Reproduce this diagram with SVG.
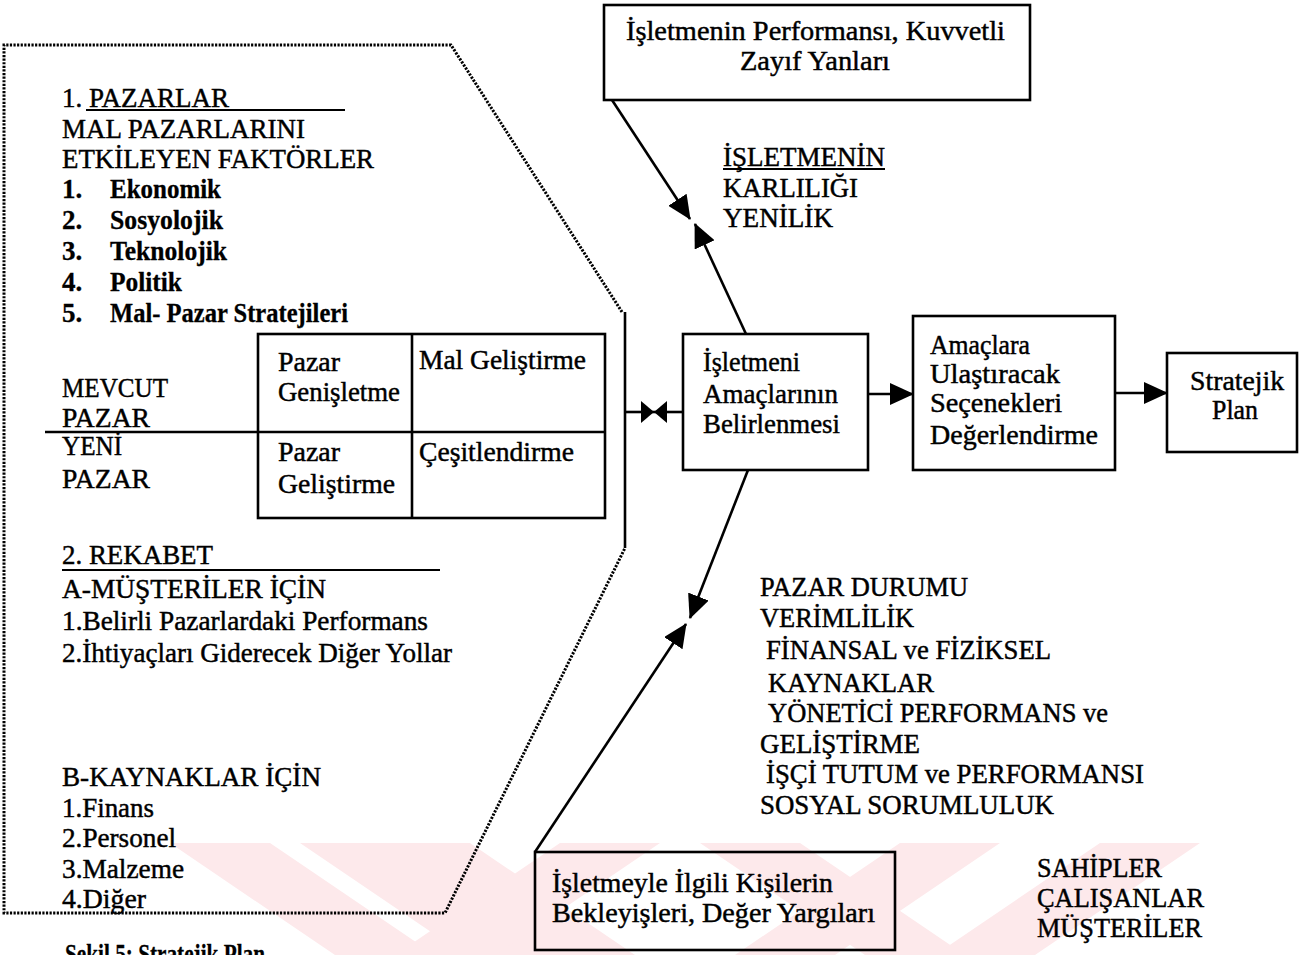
<svg xmlns="http://www.w3.org/2000/svg" width="1307" height="955" viewBox="0 0 1307 955">
  <style>
    text { font-family: "Liberation Serif", "Times New Roman", serif; font-size: 27px; fill: #000; stroke: #000; stroke-width: 0.45; }
    .b { font-weight: bold; stroke-width: 0.3; }
    .box { fill: none; stroke: #000; stroke-width: 2.6; }
    .line { fill: none; stroke: #000; stroke-width: 2.6; }
    .rule { fill: none; stroke: #000; stroke-width: 1.8; }
    .dots { fill: none; stroke: #000; stroke-width: 3; stroke-dasharray: 2.2 1.4; }
    .wm { fill: #fde9eb; }
  </style>
  <defs>
    <marker id="arrow" viewBox="0 0 24 22" refX="23" refY="11" markerWidth="24" markerHeight="22" markerUnits="userSpaceOnUse" orient="auto">
      <path d="M0,0 L24,11 L0,22 z" fill="#000"/>
    </marker>
    <marker id="tip" viewBox="0 0 13 22" refX="13" refY="11" markerWidth="13" markerHeight="22" markerUnits="userSpaceOnUse" orient="auto">
      <path d="M0,0 L13,11 L0,22 z" fill="#000"/>
    </marker>
  </defs>

  <rect width="1307" height="955" fill="#fff"/>

  <!-- faint background mark along the lower edge -->
  <g id="background-mark">
    <polygon class="wm" points="170,843 270,843 435,955 335,955"/>
    <polygon class="wm" points="300,843 470,843 635,955 465,955"/>
    <polygon class="wm" points="560,843 660,843 495,955 395,955"/>
    <polygon class="wm" points="700,843 800,843 965,955 865,955"/>
    <polygon class="wm" points="900,843 1000,843 835,955 735,955"/>
    <polygon class="wm" points="1100,843 1200,843 1035,955 935,955"/>
  </g>

  <!-- dotted outline of the environment analysis panel -->
  <g id="panel">
    <path class="dots" d="M622,312 L451,45 L4,45 L4,913 L445,913 L625,548"/>
    <path class="line" d="M625,312 L625,548"/>
  </g>

  <!-- section 1: markets -->
  <g id="markets">
    <text x="62" y="107" textLength="167" lengthAdjust="spacingAndGlyphs">1. PAZARLAR</text>
    <line class="rule" x1="86" y1="110" x2="345" y2="110"/>
    <text x="62" y="138" textLength="243" lengthAdjust="spacingAndGlyphs">MAL PAZARLARINI</text>
    <text x="62" y="168" textLength="312" lengthAdjust="spacingAndGlyphs">ETKİLEYEN FAKTÖRLER</text>
    <text class="b" x="62" y="198">1.</text><text class="b" x="110" y="198" textLength="111" lengthAdjust="spacingAndGlyphs">Ekonomik</text>
    <text class="b" x="62" y="229">2.</text><text class="b" x="110" y="229" textLength="113" lengthAdjust="spacingAndGlyphs">Sosyolojik</text>
    <text class="b" x="62" y="260">3.</text><text class="b" x="110" y="260" textLength="117" lengthAdjust="spacingAndGlyphs">Teknolojik</text>
    <text class="b" x="62" y="291">4.</text><text class="b" x="110" y="291" textLength="72" lengthAdjust="spacingAndGlyphs">Politik</text>
    <text class="b" x="62" y="322">5.</text><text class="b" x="110" y="322" textLength="238" lengthAdjust="spacingAndGlyphs">Mal- Pazar Stratejileri</text>
  </g>

  <!-- product / market matrix -->
  <g id="matrix">
    <rect class="box" x="258" y="334" width="347" height="184"/>
    <line class="line" x1="412" y1="334" x2="412" y2="518"/>
    <line class="line" x1="45" y1="432" x2="605" y2="432"/>
    <text x="62" y="397" textLength="106" lengthAdjust="spacingAndGlyphs">MEVCUT</text>
    <text x="62" y="427" textLength="88" lengthAdjust="spacingAndGlyphs">PAZAR</text>
    <text x="62" y="455" textLength="60" lengthAdjust="spacingAndGlyphs">YENİ</text>
    <text x="62" y="488" textLength="88" lengthAdjust="spacingAndGlyphs">PAZAR</text>
    <text x="278" y="371" textLength="62" lengthAdjust="spacingAndGlyphs">Pazar</text>
    <text x="278" y="401" textLength="122" lengthAdjust="spacingAndGlyphs">Genişletme</text>
    <text x="419" y="369" textLength="167" lengthAdjust="spacingAndGlyphs">Mal Geliştirme</text>
    <text x="278" y="461" textLength="62" lengthAdjust="spacingAndGlyphs">Pazar</text>
    <text x="278" y="493" textLength="117" lengthAdjust="spacingAndGlyphs">Geliştirme</text>
    <text x="419" y="461" textLength="155" lengthAdjust="spacingAndGlyphs">Çeşitlendirme</text>
  </g>

  <!-- section 2: competition -->
  <g id="competition">
    <text x="62" y="564" textLength="151" lengthAdjust="spacingAndGlyphs">2. REKABET</text>
    <line class="rule" x1="62" y1="570" x2="440" y2="570"/>
    <text x="62" y="598" textLength="264" lengthAdjust="spacingAndGlyphs">A-MÜŞTERİLER  İÇİN</text>
    <text x="62" y="630" textLength="366" lengthAdjust="spacingAndGlyphs">1.Belirli  Pazarlardaki Performans</text>
    <text x="62" y="662" textLength="390" lengthAdjust="spacingAndGlyphs">2.İhtiyaçları Giderecek Diğer Yollar</text>
    <text x="62" y="786" textLength="259" lengthAdjust="spacingAndGlyphs">B-KAYNAKLAR İÇİN</text>
    <text x="62" y="817" textLength="92" lengthAdjust="spacingAndGlyphs">1.Finans</text>
    <text x="62" y="847" textLength="114" lengthAdjust="spacingAndGlyphs">2.Personel</text>
    <text x="62" y="878" textLength="122" lengthAdjust="spacingAndGlyphs">3.Malzeme</text>
    <text x="62" y="908" textLength="84" lengthAdjust="spacingAndGlyphs">4.Diğer</text>
  </g>

  <g id="performance">
    <rect class="box" x="604" y="5" width="426" height="95"/>
    <text x="626" y="40" textLength="379" lengthAdjust="spacingAndGlyphs">İşletmenin Performansı, Kuvvetli</text>
    <text x="740" y="70" textLength="150" lengthAdjust="spacingAndGlyphs">Zayıf Yanları</text>
  </g>

  <g id="profitability">
    <text x="723" y="166" textLength="162" lengthAdjust="spacingAndGlyphs">İŞLETMENİN</text>
    <line class="rule" x1="723" y1="169" x2="885" y2="169"/>
    <text x="723" y="197" textLength="135" lengthAdjust="spacingAndGlyphs">KARLILIĞI</text>
    <text x="723" y="227" textLength="110" lengthAdjust="spacingAndGlyphs">YENİLİK</text>
  </g>

  <g id="objectives">
    <rect class="box" x="683" y="334" width="185" height="136"/>
    <text x="703" y="371" textLength="97" lengthAdjust="spacingAndGlyphs">İşletmeni</text>
    <text x="703" y="403" textLength="135" lengthAdjust="spacingAndGlyphs">Amaçlarının</text>
    <text x="703" y="433" textLength="137" lengthAdjust="spacingAndGlyphs">Belirlenmesi</text>
  </g>

  <g id="options">
    <rect class="box" x="913" y="316" width="202" height="154"/>
    <text x="930" y="354" textLength="100" lengthAdjust="spacingAndGlyphs">Amaçlara</text>
    <text x="930" y="383" textLength="130" lengthAdjust="spacingAndGlyphs">Ulaştıracak</text>
    <text x="930" y="412" textLength="132" lengthAdjust="spacingAndGlyphs">Seçenekleri</text>
    <text x="930" y="444" textLength="168" lengthAdjust="spacingAndGlyphs">Değerlendirme</text>
  </g>

  <g id="plan">
    <rect class="box" x="1167" y="353" width="130" height="99"/>
    <text x="1190" y="390" textLength="94" lengthAdjust="spacingAndGlyphs">Stratejik</text>
    <text x="1212" y="419" textLength="46" lengthAdjust="spacingAndGlyphs">Plan</text>
  </g>

  <g id="criteria">
    <text x="760" y="596" textLength="208" lengthAdjust="spacingAndGlyphs">PAZAR DURUMU</text>
    <text x="760" y="627" textLength="154" lengthAdjust="spacingAndGlyphs">VERİMLİLİK</text>
    <text x="766" y="659" textLength="285" lengthAdjust="spacingAndGlyphs">FİNANSAL ve FİZİKSEL</text>
    <text x="768" y="692" textLength="166" lengthAdjust="spacingAndGlyphs">KAYNAKLAR</text>
    <text x="768" y="722" textLength="340" lengthAdjust="spacingAndGlyphs">YÖNETİCİ PERFORMANS ve</text>
    <text x="760" y="753" textLength="160" lengthAdjust="spacingAndGlyphs">GELİŞTİRME</text>
    <text x="766" y="783" textLength="378" lengthAdjust="spacingAndGlyphs">İŞÇİ TUTUM ve PERFORMANSI</text>
    <text x="760" y="814" textLength="294" lengthAdjust="spacingAndGlyphs">SOSYAL SORUMLULUK</text>
  </g>

  <g id="stakeholders">
    <rect class="box" x="535" y="852" width="360" height="98"/>
    <text x="552" y="892" textLength="281" lengthAdjust="spacingAndGlyphs">İşletmeyle İlgili Kişilerin</text>
    <text x="552" y="922" textLength="323" lengthAdjust="spacingAndGlyphs">Bekleyişleri, Değer Yargıları</text>
  </g>

  <g id="stakeholder-groups">
    <text x="1037" y="877" textLength="125" lengthAdjust="spacingAndGlyphs">SAHİPLER</text>
    <text x="1037" y="907" textLength="167" lengthAdjust="spacingAndGlyphs">ÇALIŞANLAR</text>
    <text x="1037" y="937" textLength="165" lengthAdjust="spacingAndGlyphs">MÜŞTERİLER</text>
  </g>

  <g id="caption">
    <text class="b" x="65" y="963" textLength="200" lengthAdjust="spacingAndGlyphs">Şekil 5: Stratejik Plan</text>
  </g>

  <!-- connectors -->
  <g id="connectors">
    <line class="line" x1="612" y1="100" x2="690" y2="219" marker-end="url(#arrow)"/>
    <line class="line" x1="746" y1="334" x2="695" y2="224" marker-end="url(#arrow)"/>
    <line class="line" x1="748" y1="470" x2="690" y2="618" marker-end="url(#arrow)"/>
    <line class="line" x1="535" y1="852" x2="686" y2="624" marker-end="url(#arrow)"/>
    <line class="line" x1="625" y1="412" x2="654" y2="412" marker-end="url(#tip)"/>
    <line class="line" x1="683" y1="412" x2="654" y2="412" marker-end="url(#tip)"/>
    <line class="line" x1="868" y1="394" x2="913" y2="394" marker-end="url(#arrow)"/>
    <line class="line" x1="1115" y1="393" x2="1167" y2="393" marker-end="url(#arrow)"/>
  </g>
</svg>
